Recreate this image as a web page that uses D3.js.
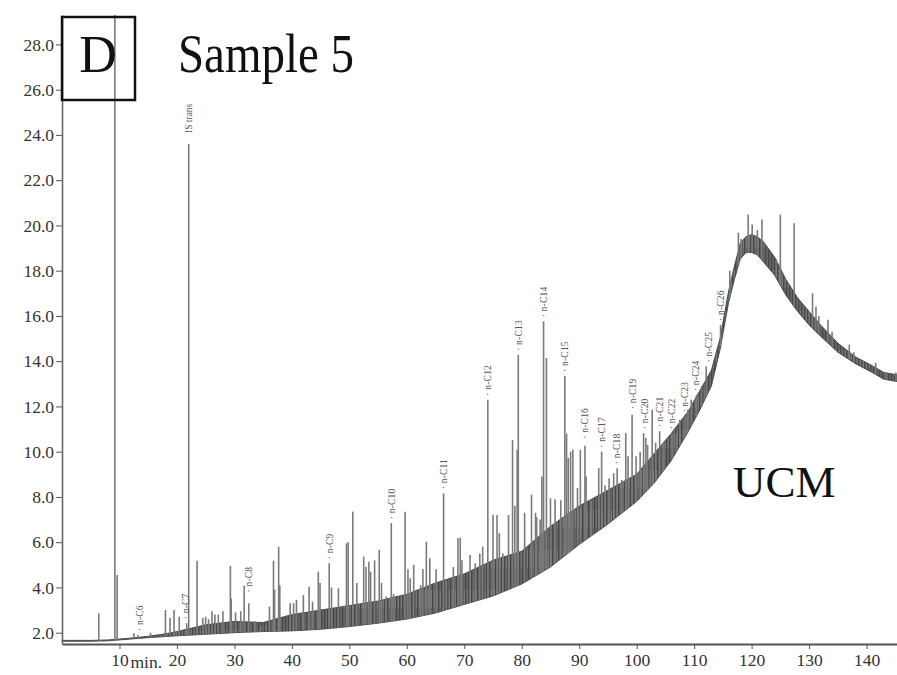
<!DOCTYPE html>
<html>
<head>
<meta charset="utf-8">
<script src="https://cdn.jsdelivr.net/npm/d3@7"></script>
<style>
  html, body { margin: 0; padding: 0; background: #fff; }
  svg { display: block; }
</style>
</head>
<body>
<svg id="chart" width="897" height="675"></svg>
<script>
// ---- data ----
const xTicks = [10, 20, 30, 40, 50, 60, 70, 80, 90, 100, 110, 120, 130, 140];
const yTicks = [2, 4, 6, 8, 10, 12, 14, 16, 18, 20, 22, 24, 26, 28];

// UCM band: retention time (min), lower and upper envelope of the dense trace
const bandT    = [0, 5, 8, 10, 12, 15, 18, 20, 25, 30, 35, 40, 45, 50, 55, 60, 65, 70, 75, 80, 85, 90, 95, 100, 103, 106, 109, 111, 113, 114.5, 116, 117, 118, 119, 120, 121, 122, 124, 126, 128, 130, 132, 135, 138, 141, 143, 145.3];
const bandLow  = [1.62, 1.62, 1.64, 1.68, 1.72, 1.78, 1.83, 1.86, 1.93, 2.0, 2.05, 2.08, 2.15, 2.27, 2.42, 2.6, 2.87, 3.25, 3.62, 4.15, 4.9, 5.9, 6.8, 7.8, 8.6, 9.6, 10.9, 11.85, 12.9, 14.5, 16.6, 17.6, 18.5, 18.8, 18.8, 18.7, 18.4, 17.8, 16.9, 16.2, 15.6, 15.1, 14.4, 13.9, 13.5, 13.2, 13.1];
const bandHigh = [1.66, 1.66, 1.68, 1.72, 1.76, 1.84, 1.95, 2.05, 2.35, 2.5, 2.45, 2.8, 3.0, 3.2, 3.4, 3.7, 4.2, 4.6, 5.2, 5.6, 6.7, 7.6, 8.3, 9.0, 9.9, 10.8, 11.8, 12.7, 13.6, 15.0, 17.1, 18.2, 19.2, 19.5, 19.6, 19.5, 19.3, 18.6, 17.6, 16.8, 16.2, 15.6, 14.8, 14.2, 13.8, 13.5, 13.4];

// individual peaks: retention time (min) and apex value
const peakT = [6.4, 9.2, 9.6, 12.5, 13.2, 15.4, 18.0, 18.8, 19.5, 20.4, 21.7, 22.05, 23.5, 24.5, 25.0, 25.5, 26.1, 26.6, 27.2, 28.0,
  29.3, 29.45, 30.2, 31.1, 31.7, 32.5, 33.6, 34.6, 35.5, 36.1, 36.8, 37.0, 37.7, 37.9, 39.7, 40.3, 40.8, 42.0, 43.0, 43.6,
  44.6, 44.9, 46.5, 46.9, 48.1, 49.5, 49.8, 50.6, 51.3, 52.5, 52.9, 53.4, 53.7, 54.4, 55.2, 55.6, 56.4, 57.3, 57.7, 59.7,
  60.2, 60.6, 61.2, 62.4, 62.8, 63.4, 64.0, 65.1, 66.4, 66.9, 68.1, 68.9, 69.3, 69.6, 71.0, 71.9, 72.7, 73.2, 74.1, 75.0,
  75.7, 76.1, 76.7, 77.7, 78.4, 78.8, 79.2, 79.4, 80.5, 81.7, 82.4, 82.6, 83.2, 83.5, 83.8, 84.3, 85.0, 85.8, 86.8, 87.5,
  87.8, 88.1, 88.5, 88.9, 89.7, 90.2, 91.0, 91.2, 92.1, 93.4, 93.9, 94.5, 95.2, 96.0, 96.6, 97.4, 98.1, 98.5, 99.2, 99.9,
  100.6, 101.2, 101.6, 101.9, 102.7, 103.3, 104.0, 104.7, 106.2, 106.9, 107.5, 108.4, 108.9, 109.5, 110.4, 111.3, 112.1, 114.6, 116.2, 117.7,
  118.2, 119.4, 120.1, 121.0, 121.8, 124.3, 125.0, 127.4, 130.6, 131.2, 131.7, 133.3, 134.0, 137.0, 137.8, 141.6, 143.4, 145.1];
const peakV = [2.85, 29.3, 4.55, 1.98, 1.9, 2.0, 3.0, 2.65, 3.0, 2.7, 2.42, 23.6, 5.18, 2.65, 2.7, 2.6, 2.95, 2.8, 2.8, 2.95,
  4.95, 3.5, 2.9, 2.95, 4.07, 3.3, 2.5, 2.3, 2.3, 3.15, 5.18, 3.9, 5.8, 4.1, 3.3, 3.3, 3.45, 3.66, 4.03, 3.37,
  4.7, 4.2, 5.07, 4.0, 3.96, 5.95, 6.0, 7.35, 4.2, 5.36, 4.9, 5.14, 4.7, 5.2, 5.66, 4.2, 3.6, 6.84, 3.7, 7.35,
  4.8, 4.4, 5.0, 4.1, 4.82, 6.02, 5.29, 4.8, 8.16, 4.3, 4.9, 6.17, 6.2, 5.2, 5.43, 5.07, 5.5, 5.8, 12.3, 7.2,
  7.2, 6.4, 5.5, 7.2, 10.52, 7.6, 10.08, 14.28, 7.3, 8.1, 7.3, 7.1, 7.0, 8.9, 15.76, 14.14, 7.94, 7.9, 7.85, 13.35,
  10.8, 9.73, 10.0, 10.1, 8.4, 10.08, 10.26, 8.9, 7.85, 9.27, 10.0, 8.5, 8.83, 9.05, 9.27, 8.75, 10.82, 9.8, 11.63, 9.8,
  10.0, 10.82, 10.6, 10.3, 11.85, 10.4, 10.9, 10.4, 10.82, 10.8, 11.4, 11.55, 11.85, 12.3, 12.5, 12.9, 13.77, 15.6, 18.0, 19.68,
  19.4, 20.48, 20.04, 19.8, 20.26, 18.5, 20.48, 20.1, 17.0, 16.4, 16.0, 15.83, 15.3, 14.73, 14.4, 13.93, 13.5, 13.5];

// peak annotations
const labelNames = ["n-C6", "n-C7", "n-C8", "n-C9", "n-C10", "n-C11", "n-C12", "n-C13", "n-C14", "n-C15", "n-C16",
  "n-C17", "n-C18", "n-C19", "n-C20", "n-C21", "n-C22", "n-C23", "n-C24", "n-C25", "n-C26"];
const labelT = [13.6, 21.6, 32.5, 46.6, 57.5, 66.5, 74.2, 79.5, 83.9, 87.6, 91.0, 93.9, 96.6, 99.3, 101.4, 104.0, 106.2, 108.4, 110.4, 112.6, 114.6];
const labelV = [1.9, 2.42, 3.6, 5.07, 6.84, 8.16, 12.3, 14.28, 15.76, 13.35, 10.4, 10.0, 9.27, 11.7, 10.82, 10.9, 10.82, 11.55, 12.5, 13.77, 15.6];
const isLabel = { name: "IS trans", t: 22.05, v: 23.6 };

// ---- drawing ----
const svg = d3.select("#chart");
const serif = "'Liberation Serif', 'Times New Roman', serif";

const x = d3.scaleLinear().domain([0, 145.3]).range([62, 897]);
const y = d3.scaleLinear().domain([1.5, 29.3]).range([644, 15]);
const baseAt = d3.scaleLinear().domain(bandT).range(bandLow).clamp(true);

// hatch pattern imitating the dense unresolved trace
const defs = svg.append("defs");
const pat = defs.append("pattern")
  .attr("id", "ucm").attr("patternUnits", "userSpaceOnUse")
  .attr("width", 3).attr("height", 40);
pat.append("rect").attr("width", 3).attr("height", 40).attr("fill", "#7a7a7a");
pat.append("line").attr("x1", 0.8).attr("x2", 0.8).attr("y1", 0).attr("y2", 40)
  .attr("stroke", "#3a3a3a").attr("stroke-width", 1.2);
pat.append("line").attr("x1", 2.2).attr("x2", 2.2).attr("y1", 8).attr("y2", 30)
  .attr("stroke", "#555").attr("stroke-width", 0.8);

// UCM band
const bandData = bandT.map((t, i) => ({ t, lo: bandLow[i], hi: bandHigh[i] }));
svg.append("path")
  .datum(bandData)
  .attr("d", d3.area().x(d => x(d.t)).y0(d => y(d.lo)).y1(d => y(d.hi)))
  .attr("fill", "url(#ucm)")
  .attr("stroke", "#444")
  .attr("stroke-width", 0.9);

// peaks
const peaks = peakT.map((t, i) => ({ t, v: peakV[i] }));
svg.append("g")
  .selectAll("line")
  .data(peaks)
  .join("line")
  .attr("x1", d => x(d.t)).attr("x2", d => x(d.t))
  .attr("y1", d => y(baseAt(d.t)))
  .attr("y2", d => y(d.v))
  .attr("stroke", "#7a7a7a")
  .attr("stroke-width", 1.6);

// y axis
const yAxis = svg.append("g")
  .attr("transform", `translate(${x(0)},0)`)
  .call(d3.axisLeft(y).tickValues(yTicks).tickFormat(d3.format(".1f")).tickSize(6).tickPadding(2).tickSizeOuter(0));
yAxis.select(".domain").attr("stroke", "#666").attr("stroke-width", 1.6);
yAxis.selectAll(".tick line").attr("stroke", "#555");
yAxis.selectAll(".tick text").attr("font-family", serif).attr("font-size", 17.5).attr("fill", "#333");

// x axis
const xAxis = svg.append("g")
  .attr("transform", `translate(0,${y(1.5)})`)
  .call(d3.axisBottom(x).tickValues(xTicks).tickFormat(d3.format("d")).tickSize(5).tickPadding(5).tickSizeOuter(0));
xAxis.select(".domain").attr("stroke", "#555").attr("stroke-width", 1.8);
xAxis.selectAll(".tick line").attr("stroke", "#555");
xAxis.selectAll(".tick text").attr("font-family", serif).attr("font-size", 17.5).attr("fill", "#333");
xAxis.append("text")
  .attr("x", x(10) + 11).attr("y", 24)
  .attr("font-family", serif).attr("font-size", 17.5).attr("fill", "#333")
  .attr("text-anchor", "start")
  .text("min.");

// peak labels
const labels = labelNames.map((n, i) => ({ n, t: labelT[i], v: labelV[i] }));
svg.append("g")
  .selectAll("text")
  .data(labels)
  .join("text")
  .attr("transform", d => `translate(${x(d.t)},${y(d.v) - 4}) rotate(-90)`)
  .attr("font-family", serif).attr("font-size", 9.5).attr("fill", "#555")
  .attr("dominant-baseline", "central")
  .attr("letter-spacing", 0.2)
  .text(d => "\u00B7 " + d.n);
svg.append("text")
  .attr("transform", `translate(${x(isLabel.t)},${y(isLabel.v) - 11}) rotate(-90)`)
  .attr("font-family", serif).attr("font-size", 9.5).attr("fill", "#555")
  .attr("dominant-baseline", "central")
  .text(isLabel.name);

// panel box "D"
svg.append("rect")
  .attr("x", 62).attr("y", 17).attr("width", 73).attr("height", 83)
  .attr("fill", "none").attr("stroke", "#111").attr("stroke-width", 2.5);
svg.append("text")
  .attr("x", 98).attr("y", 72)
  .attr("text-anchor", "middle")
  .attr("font-family", serif).attr("font-size", 52).attr("fill", "#111")
  .text("D");

svg.append("text")
  .attr("x", 178).attr("y", 72)
  .attr("font-family", serif).attr("font-size", 54).attr("fill", "#111")
  .attr("textLength", 176).attr("lengthAdjust", "spacingAndGlyphs")
  .text("Sample 5");

svg.append("text")
  .attr("x", 733).attr("y", 497)
  .attr("font-family", serif).attr("font-size", 45).attr("fill", "#111")
  .text("UCM");
</script>
</body>
</html>
